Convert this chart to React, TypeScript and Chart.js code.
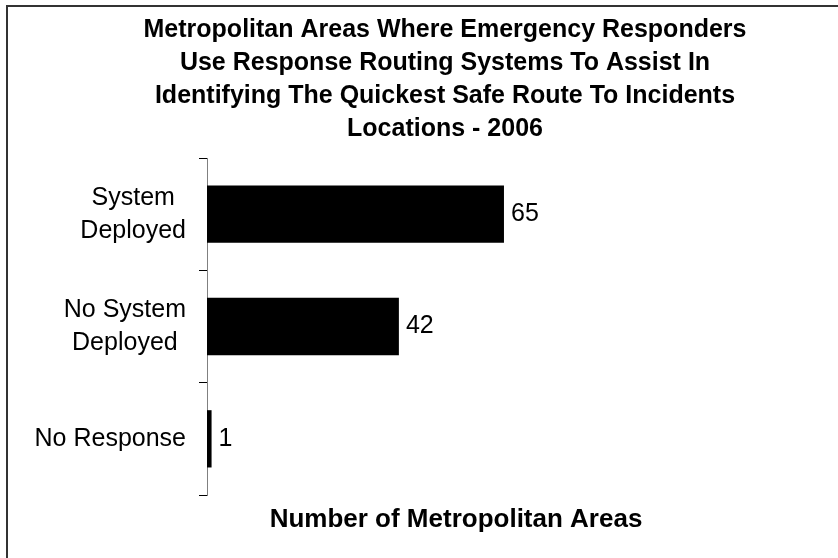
import React, { useEffect, useRef } from "react";
import { Chart, registerables } from "chart.js";

Chart.register(...registerables);

const titleLines = [
  "Metropolitan Areas Where Emergency Responders",
  "Use Response Routing Systems To Assist In",
  "Identifying The Quickest Safe Route To Incidents",
  "Locations - 2006",
];
const categories = [["System", "Deployed"], ["No System", "Deployed"], ["No Response"]];
const values = [65, 42, 1];
const xAxisTitle = "Number of Metropolitan Areas";
const X_MAX = 109;

const FONT = '"Liberation Sans", Arial, Helvetica, sans-serif';

export default function App() {
  const ref = useRef<HTMLCanvasElement>(null);

  useEffect(() => {
    if (!ref.current) return;

    const frame = {
      id: "frame",
      beforeDraw(chart: any) {
        const ctx = chart.ctx;
        ctx.save();
        ctx.fillStyle = "#ffffff";
        ctx.fillRect(0, 0, chart.width, chart.height);
        ctx.strokeStyle = "#333333";
        ctx.lineWidth = 2;
        ctx.beginPath();
        ctx.moveTo(7, chart.height);
        ctx.lineTo(7, 6);
        ctx.lineTo(chart.width, 6);
        ctx.stroke();
        ctx.restore();
      },
    };

    const titleDraw = {
      id: "titleDraw",
      afterDraw(chart: any) {
        const ctx = chart.ctx;
        ctx.save();
        ctx.font = `bold 25px ${FONT}`;
        ctx.fillStyle = "#000";
        ctx.textAlign = "center";
        ctx.textBaseline = "middle";
        const lh = 33;
        const top = 30;
        titleLines.forEach((line, i) => {
          ctx.fillText(line, 445, top + i * lh);
        });
        ctx.restore();
      },
    };

    const yLabels = {
      id: "yLabels",
      afterDraw(chart: any) {
        const ctx = chart.ctx;
        const yScale = chart.scales.y;
        const rightEdge = chart.chartArea.left - 21;
        const lh = 33;
        ctx.save();
        ctx.font = `25px ${FONT}`;
        ctx.fillStyle = "#000";
        ctx.textAlign = "center";
        ctx.textBaseline = "middle";
        categories.forEach((lines, i) => {
          const cy = yScale.getPixelForValue(i);
          const w = Math.max(...lines.map((l) => ctx.measureText(l).width));
          const cx = rightEdge - w / 2;
          lines.forEach((line, j) => {
            ctx.fillText(line, cx, cy + (j - (lines.length - 1) / 2) * lh);
          });
        });
        ctx.restore();
      },
    };

    const valueLabels = {
      id: "valueLabels",
      afterDatasetsDraw(chart: any) {
        const ctx = chart.ctx;
        const meta = chart.getDatasetMeta(0);
        ctx.save();
        ctx.font = `25px ${FONT}`;
        ctx.fillStyle = "#000";
        ctx.textAlign = "left";
        ctx.textBaseline = "middle";
        meta.data.forEach((bar: any, i: number) => {
          ctx.fillText(String(values[i]), bar.x + 7, bar.y);
        });
        ctx.restore();
      },
    };

    const chart = new Chart(ref.current, {
      type: "bar",
      data: {
        labels: categories.map((c) => c.join(" ")),
        datasets: [
          {
            data: values,
            backgroundColor: "#000000",
            borderWidth: 0,
            barPercentage: 0.51,
            categoryPercentage: 1,
          },
        ],
      },
      options: {
        indexAxis: "y",
        animation: false,
        responsive: false,
        devicePixelRatio: 1,
        layout: { padding: { left: 185, right: 133, top: 158, bottom: 22.4 } },
        plugins: {
          legend: { display: false },
          tooltip: { enabled: false },
          title: { display: false },
        },
        scales: {
          x: {
            min: 0,
            max: X_MAX,
            ticks: { display: false },
            grid: { display: false, drawTicks: false },
            border: { display: false },
            title: {
              display: true,
              text: xAxisTitle,
              color: "#000",
              font: { family: FONT, size: 26, weight: "bold", lineHeight: 1.2 },
              padding: { top: 9.4, bottom: 0 },
            },
          },
          y: {
            ticks: { display: false },
            grid: {
              display: true,
              drawOnChartArea: false,
              drawTicks: true,
              tickLength: 8,
              offset: true,
              color: "#000",
              lineWidth: 1,
            },
            border: { display: true, color: "#808080", width: 1 },
            afterFit(scale: any) {
              scale.width = 22;
            },
          },
        },
      },
      plugins: [frame, titleDraw, yLabels, valueLabels],
    });

    return () => chart.destroy();
  }, []);

  return (
    <div style={{ position: "absolute", left: 0, top: 0, width: 838, height: 558, overflow: "hidden" }}>
      <canvas ref={ref} width={838} height={558} style={{ display: "block", width: 838, height: 558 }} />
    </div>
  );
}
